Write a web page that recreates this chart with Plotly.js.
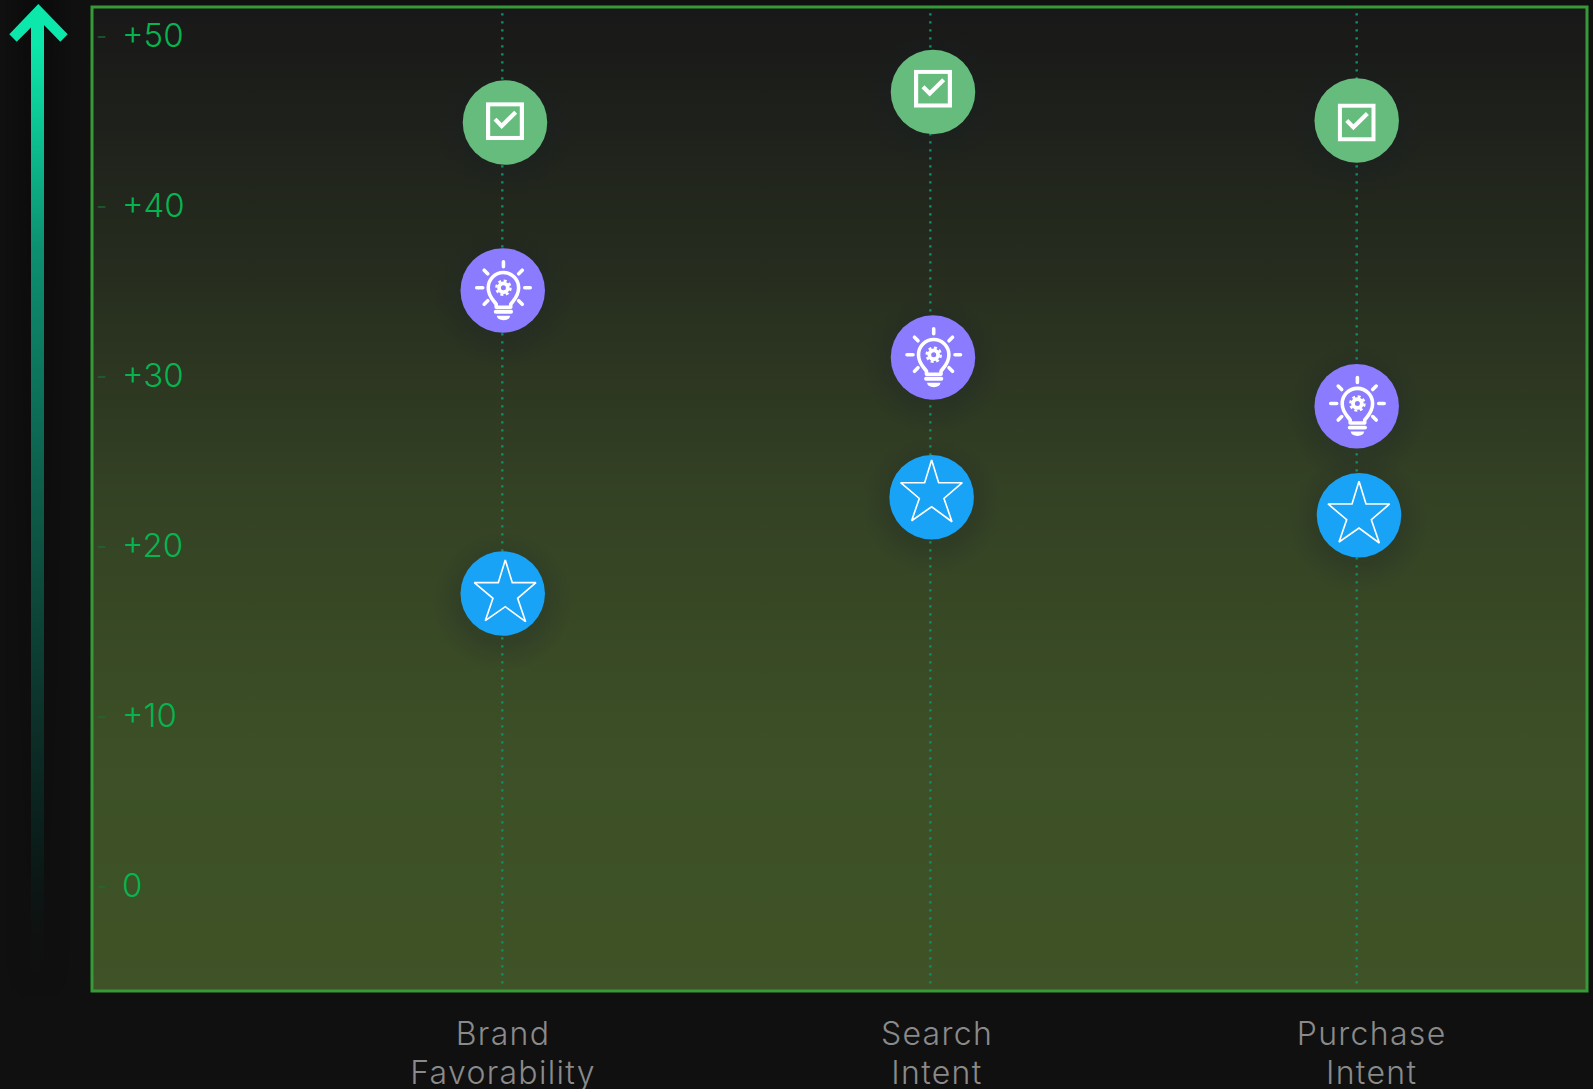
<!DOCTYPE html>
<html><head><meta charset="utf-8">
<script src="https://cdn.plot.ly/plotly-3.0.1.min.js"></script>
<style>html,body{margin:0;padding:0;background:#101010;overflow:hidden}#c{width:1593px;height:1089px}
.xtick text{letter-spacing:1.3px}</style>
</head><body><div id="c"></div>
<script>
// ---- data ----
const categories = ['Brand<br>Favorability', 'Search<br>Intent', 'Purchase<br>Intent'];
const categoryLabelX = [0.0016, 1.0175, 2.035];
const guideX = [0, 1.002, 2];
const guideY = [51.4, -5.76];
const yTicks = [50, 40, 30, 20, 10, 0];
const yTickText = ['+50', '+40', '+30', '+20', '+10', '0'];
const tickDashX = -0.938;

const checkX = [0.0063, 1.0082, 2.0];
const checkY = [44.97, 46.77, 45.09];
const bulbX = [0.001, 1.0082, 2.0];
const bulbY = [35.09, 31.15, 28.28];
const starX = [0.001, 1.005, 2.0054];
const starY = [17.26, 22.93, 21.87];

const checkIconX = [0.0063, 1.0082, 2.0];
const checkIconY = [45.05, 46.96, 44.97];
const starIconX = [0.007, 1.005, 2.0054];
const starIconY = [17.43, 23.31, 22.06];

// ---- geometry / style ----
const W = 1593, H = 1089, L = 92, R = 6, T = 7, B = 98;
const PW = W - L - R, PH = H - T - B;
const pxX = 427.2, pxY = 17;           // px per data unit
const xRange = [(L - 502.3) / pxX, (W - R - 502.3) / pxX];
const yRange = [-(991 - 887) / pxY, (887 - 7) / pxY];
const uri = s => 'data:image/svg+xml;utf8,' + encodeURIComponent(s);
const FONT = 'Inter, "Open Sans", sans-serif';

const bgSvg = `<svg xmlns="http://www.w3.org/2000/svg" width="100" height="100" viewBox="0 0 100 100" preserveAspectRatio="none"><defs><linearGradient id="g" x1="0" y1="0" x2="0" y2="1"><stop offset="0" stop-color="#181818"/><stop offset="0.25" stop-color="#252b1e"/><stop offset="0.5" stop-color="#344224"/><stop offset="0.75" stop-color="#3c4f26"/><stop offset="1" stop-color="#3f5327"/></linearGradient></defs><rect width="100" height="100" fill="url(#g)"/></svg>`;

const arrowSvg = `<svg xmlns="http://www.w3.org/2000/svg" width="92" height="1089" viewBox="0 0 92 1089" preserveAspectRatio="none"><defs>
<linearGradient id="a" gradientUnits="userSpaceOnUse" x1="0" y1="4" x2="0" y2="990">
<stop offset="0" stop-color="#0ce8ab"/><stop offset="0.04" stop-color="#0ce8ab"/>
<stop offset="0.25" stop-color="#0c8f70"/><stop offset="0.5" stop-color="#0d5c49"/>
<stop offset="0.75" stop-color="#0c2c26"/><stop offset="0.87" stop-color="#0a1a17"/><stop offset="1" stop-color="#101010" stop-opacity="0"/></linearGradient>
<linearGradient id="d" x1="0" y1="0" x2="0" y2="1"><stop offset="0" stop-color="#000" stop-opacity=".25"/><stop offset="0.9" stop-color="#000" stop-opacity=".06"/><stop offset="1" stop-color="#000" stop-opacity="0"/></linearGradient>
<linearGradient id="h" x1="0" y1="0" x2="1" y2="0"><stop offset="0" stop-color="#fff" stop-opacity="0"/><stop offset=".35" stop-color="#fff"/><stop offset=".65" stop-color="#fff"/><stop offset="1" stop-color="#fff" stop-opacity="0"/></linearGradient>
<mask id="m"><rect x="5" y="0" width="66" height="1089" fill="url(#h)"/></mask></defs>
<rect x="5" y="0" width="66" height="1000" fill="url(#d)" mask="url(#m)"/>
<rect x="31" y="24" width="13" height="966" fill="url(#a)"/>
<polygon points="38.3,4 67.7,34.3 60.3,41.7 44,25 31,27.5 16.7,41.7 9.3,34.3" fill="url(#a)"/></svg>`;

const shadowSvg = `<svg xmlns="http://www.w3.org/2000/svg" width="100" height="100" viewBox="0 0 100 100"><defs><radialGradient id="s"><stop offset="0" stop-color="#161c28" stop-opacity=".24"/><stop offset=".6" stop-color="#161c28" stop-opacity=".19"/><stop offset="1" stop-color="#161c28" stop-opacity="0"/></radialGradient></defs><circle cx="50" cy="50" r="50" fill="url(#s)"/></svg>`;

const checkSvg = `<svg xmlns="http://www.w3.org/2000/svg" width="38" height="38" viewBox="0 0 38 38"><rect x="2.1" y="2.1" width="33.8" height="33.8" fill="none" stroke="#fff" stroke-width="4.2"/><path d="M9 17 L15.7 23.8 L29.7 10" fill="none" stroke="#fff" stroke-width="4.2"/></svg>`;

const starSvg = `<svg xmlns="http://www.w3.org/2000/svg" width="70" height="70" viewBox="121 77 210 210"><polygon points="226,90 247,158 318,158 263,205 287,275 226,230 166,272 189,205 133,158 205,158" fill="none" stroke="#fff" stroke-width="5" stroke-miterlimit="2"/></svg>`;

const bulbSvg = `<svg xmlns="http://www.w3.org/2000/svg" width="100" height="100" viewBox="-2 -1.3 100 100"><g fill="none" stroke="#fff" stroke-width="3.6" stroke-linecap="round">
<path d="M48.7 20V25M22 46H28M70 46H75.5M29.5 28.5L33 32M67.5 28.5L64 32M29.5 62.5L33 59M67.5 62.5L64 59"/>
<path d="M41.5 65.5V62.5C39 58.5 33.5 55 33.5 46A15.2 15.2 0 0 1 63.9 46C63.9 55 58.5 58.5 56 62.5V65.5Z" stroke-linejoin="round"/>
<path d="M41 70H56.4" stroke-width="3.8"/>
<circle cx="48.7" cy="46" r="4.4" stroke-width="3.8"/>
<circle cx="48.7" cy="46" r="7.1" stroke-width="2.4" stroke-dasharray="3 2.58" stroke-linecap="butt"/></g>
<path d="M42 74H55.5A6.8 5 0 0 1 42 74Z" fill="#fff"/></svg>`;

function icons(xs, ys, svg, size, layer, dy) {
  return xs.map((x, i) => ({
    source: uri(svg), xref: 'x', yref: 'y', x: x, y: ys[i] - (dy || 0) / pxY,
    sizex: size / pxX, sizey: size / pxY, xanchor: 'center', yanchor: 'middle',
    sizing: 'stretch', layer: layer
  }));
}

const images = [
  {source: uri(bgSvg), xref: 'paper', yref: 'paper', x: 0, y: 1, sizex: 1, sizey: 1,
   xanchor: 'left', yanchor: 'top', sizing: 'stretch', layer: 'below'},
  {source: uri(arrowSvg), xref: 'paper', yref: 'paper', x: -L / PW, y: 1 + T / PH, sizex: L / PW, sizey: H / PH,
   xanchor: 'left', yanchor: 'top', sizing: 'stretch', layer: 'below'},
  ...icons(checkX, checkY, shadowSvg, 140, 'below', 8),
  ...icons(bulbX, bulbY, shadowSvg, 140, 'below', 8),
  ...icons(starX, starY, shadowSvg, 140, 'below', 8),
  ...icons(checkIconX, checkIconY, checkSvg, 38, 'above'),
  ...icons(bulbX, bulbY, bulbSvg, 100, 'above'),
  ...icons(starIconX, starIconY, starSvg, 70, 'above')
];

const guides = guideX.map(x => ({
  x: [x, x], y: guideY, mode: 'lines', hoverinfo: 'skip',
  line: {color: '#0b8f6e', width: 2.4, dash: '2.4px,5.6px'}
}));
const dot = (x, y, color) => ({
  x, y, mode: 'markers', hoverinfo: 'skip',
  marker: {size: 84.5, color, line: {width: 0}}
});
const dashes = {
  x: yTicks.map(() => tickDashX), y: yTicks, mode: 'markers', hoverinfo: 'skip',
  marker: {symbol: 'line-ew', size: 5.5, line: {width: 1.3, color: '#1a6e36'}}
};

function tightenLabels() {
  document.querySelectorAll('.xtick tspan.line').forEach(t => {
    if (parseFloat(t.getAttribute('dy')) !== 0) t.setAttribute('dy', '38.7px');
  });
}

Plotly.newPlot('c', [...guides, dashes, dot(checkX, checkY, '#65bc7d'), dot(bulbX, bulbY, '#8b7bff'), dot(starX, starY, '#19a3f7')], {
  width: W, height: H, showlegend: false,
  margin: {l: L, r: R, t: T, b: B, pad: 0},
  paper_bgcolor: '#101010', plot_bgcolor: 'rgba(0,0,0,0)',
  hovermode: false,
  xaxis: {range: xRange, showgrid: false, zeroline: false, showline: false, ticks: '',
    tickmode: 'array', tickvals: categoryLabelX, ticktext: categories,
    tickfont: {family: FONT, size: 32, weight: 300, color: '#8a8a8a'}, tickangle: 0, ticklabelstandoff: 21, fixedrange: true},
  yaxis: {range: yRange, showgrid: false, zeroline: false, showline: false, ticks: '',
    tickmode: 'array', tickvals: yTicks, ticktext: yTickText, ticklabelposition: 'inside',
    ticklabelstandoff: 27, ticklabelshift: -2, tickfont: {family: FONT, size: 33, weight: 300, color: '#06b450'}, fixedrange: true},
  shapes: [{type: 'rect', xref: 'paper', yref: 'paper', x0: 0, x1: 1, y0: 0, y1: 1,
    line: {color: '#369a36', width: 3}, fillcolor: 'rgba(0,0,0,0)', layer: 'above'}],
  images: images
}, {displayModeBar: false, staticPlot: true}).then(tightenLabels);
</script></body></html>
